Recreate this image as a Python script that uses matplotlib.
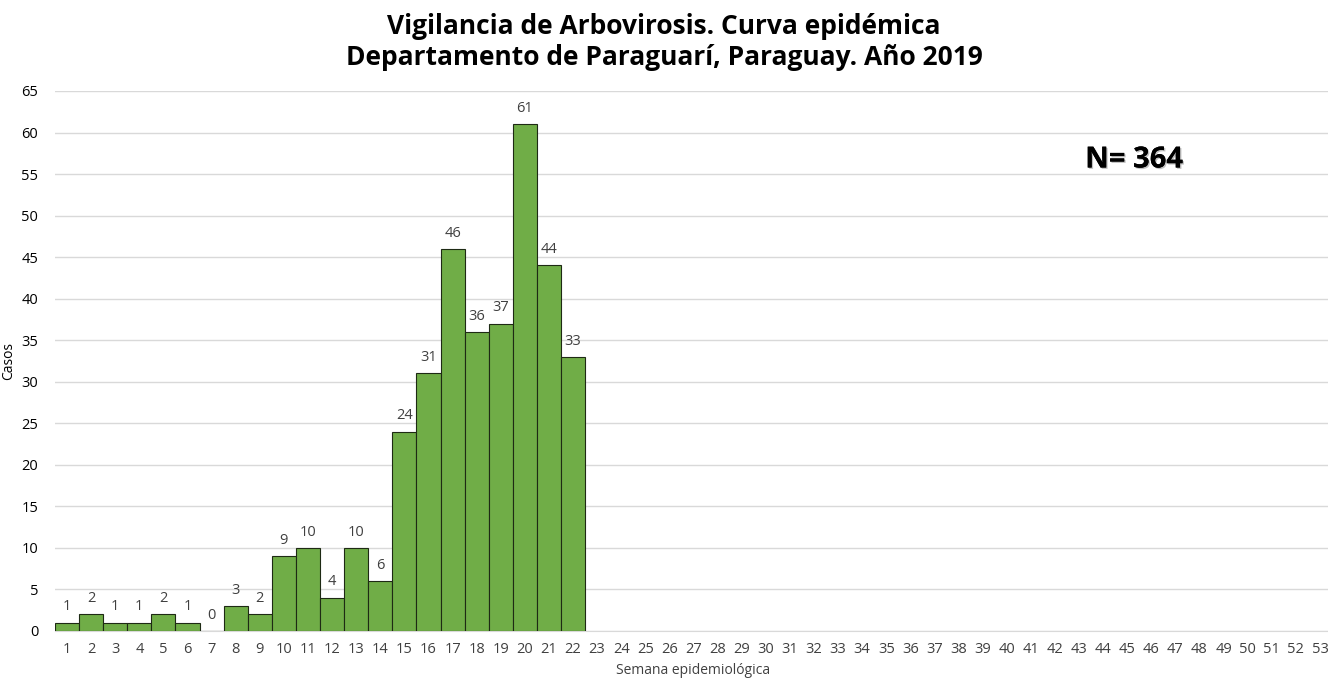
import matplotlib.pyplot as plt
import matplotlib.patheffects as pe

# Arbovirosis cases per epidemiological week, Paraguarí 2019
weeks = list(range(1, 54))
cases = [1, 2, 1, 1, 2, 1, 0, 3, 2, 9, 10, 4, 10, 6, 24, 31, 46, 36, 37, 61, 44, 33]
yticks = list(range(0, 70, 5))

title = "Vigilancia de Arbovirosis. Curva epidémica\nDepartamento de Paraguarí, Paraguay. Año 2019"
total_label = "N= 364"

plt.rcParams['font.family'] = ['Open Sans', 'DejaVu Sans']

fig = plt.figure(figsize=(13.28, 6.79), dpi=100)
ax = fig.add_axes([55 / 1328, 48 / 679, 1277 / 1328, 540 / 679])

reported = weeks[:len(cases)]
ax.bar(reported, cases, width=1.0, color='#70AD47',
       edgecolor='#1e2a14', linewidth=0.8, zorder=3)

for x, v in zip(reported, cases):
    ax.text(x, v + 1.0, str(v), ha='center', va='bottom',
            fontsize=10.5, color='#404040')

ax.set_xlim(0.5, 53.5)
ax.set_ylim(0, 65)
ax.set_xticks(weeks)
ax.set_xticklabels([str(w) for w in weeks], fontsize=10.5, color='#404040')
ax.set_yticks(yticks)
ax.set_yticklabels([str(t) for t in yticks], fontsize=10.5, color='#000000')
ax.tick_params(axis='both', length=0, pad=8)
ax.tick_params(axis='y', pad=12)

ax.grid(axis='y', color='#d9d9d9', linewidth=1, zorder=0)
for side in ['top', 'right', 'left']:
    ax.spines[side].set_visible(False)
ax.spines['bottom'].set_color('#d9d9d9')

ax.set_ylabel('Casos', fontsize=10, color='#000000', labelpad=4)
fig.text(693 / 1328, 1 / 679, 'Semana epidemiológica', ha='center',
         va='bottom', fontsize=10, color='#404040')

fig.text(0.5, 1 - 42 / 679, title, ha='center', va='center',
         fontsize=19, fontweight='bold', linespacing=1.2)

fig.text(1134 / 1328, 1 - 160 / 679, total_label, ha='center', va='center',
         fontsize=21, fontweight='bold',
         path_effects=[pe.withSimplePatchShadow(offset=(1, -1), shadow_rgbFace='#999999', alpha=0.6),
                       pe.Normal()])

fig.savefig('out.png', dpi=100)
